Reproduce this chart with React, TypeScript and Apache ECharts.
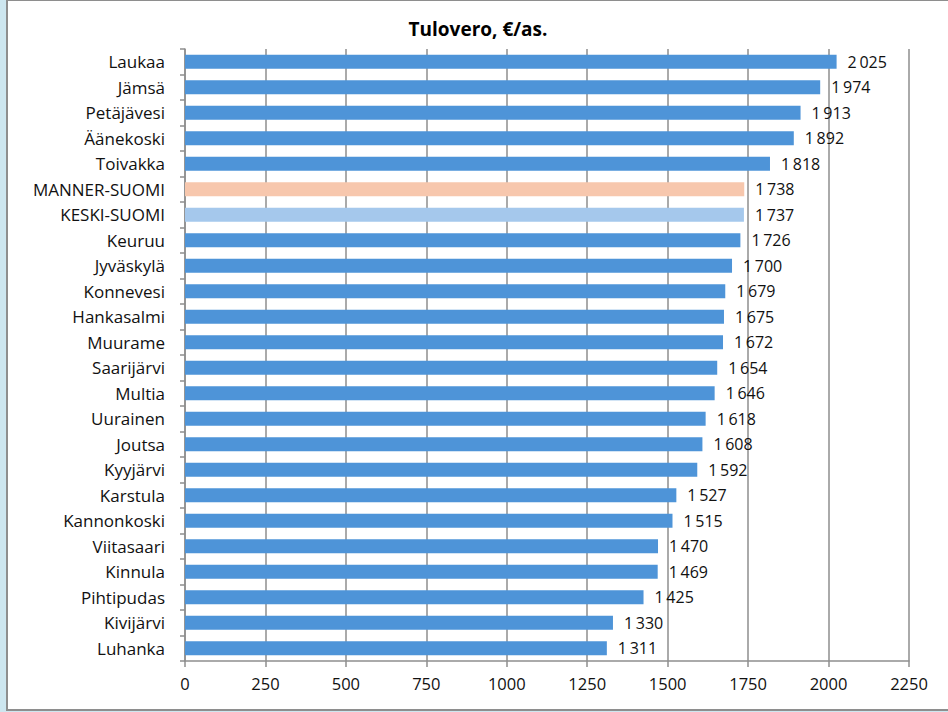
import React, { useEffect, useRef } from "react";
import * as echarts from "echarts";

const titleText = "Tulovero, €/as.";
const categories = [
  "Laukaa", "Jämsä", "Petäjävesi", "Äänekoski", "Toivakka", "MANNER-SUOMI", "KESKI-SUOMI",
  "Keuruu", "Jyväskylä", "Konnevesi", "Hankasalmi", "Muurame", "Saarijärvi", "Multia",
  "Uurainen", "Joutsa", "Kyyjärvi", "Karstula", "Kannonkoski", "Viitasaari", "Kinnula",
  "Pihtipudas", "Kivijärvi", "Luhanka",
];
const values = [
  2025, 1974, 1913, 1892, 1818, 1738, 1737, 1726, 1700, 1679, 1675, 1672, 1654, 1646,
  1618, 1608, 1592, 1527, 1515, 1470, 1469, 1425, 1330, 1311,
];
const highlightColors: Record<string, string> = {
  "MANNER-SUOMI": "#f7c7ad",
  "KESKI-SUOMI": "#a5c8ec",
};
const baseColor = "#4e94d8";
const xMin = 0;
const xMax = 2250;
const xInterval = 250;

const FONT = "'Open Sans', 'Noto Sans', sans-serif";
const GRAY = "#8e8e8e";

function fmt(v: number): string {
  const s = String(v);
  return s.length > 3 ? s.slice(0, s.length - 3) + "\u2009" + s.slice(s.length - 3) : s;
}

export default function App() {
  const ref = useRef<HTMLDivElement>(null);
  useEffect(() => {
    document.body.style.margin = "0";
    const chart = echarts.init(ref.current!, null, { renderer: "svg" });
    chart.setOption({
      animation: false,
      graphic: [
        {
          type: "text",
          x: 478,
          y: 29,
          style: {
            text: titleText,
            fontFamily: FONT,
            fontSize: 19,
            fontWeight: "bold",
            fill: "#000",
            textAlign: "center",
            textVerticalAlign: "middle",
          },
        },
      ],
      grid: { left: 185, right: 39, top: 49, bottom: 51, containLabel: false },
      xAxis: {
        type: "value",
        min: xMin,
        max: xMax,
        interval: xInterval,
        axisLine: { show: true, lineStyle: { color: GRAY, width: 1.5 } },
        axisTick: { show: true, length: 6, lineStyle: { color: GRAY, width: 1.5 } },
        axisLabel: {
          fontFamily: FONT,
          fontSize: 16.5,
          color: "#111",
          margin: 14,
          formatter: (v: number) => String(v),
        },
        splitLine: { show: true, lineStyle: { color: GRAY, width: 1.5 } },
      },
      yAxis: {
        type: "category",
        data: categories,
        inverse: true,
        axisLine: { show: true, lineStyle: { color: GRAY, width: 1.5 } },
        axisTick: { show: true, length: 5, inside: false, lineStyle: { color: GRAY, width: 1.5 } },
        axisLabel: { fontFamily: FONT, fontSize: 17, color: "#111", margin: 20 },
        splitLine: { show: false },
      },
      series: [
        {
          type: "bar",
          barWidth: 14,
          data: values.map((v, i) => ({
            value: v,
            itemStyle: { color: highlightColors[categories[i]] || baseColor },
          })),
          label: {
            show: true,
            position: "right",
            distance: 11,
            fontFamily: FONT,
            fontSize: 16,
            color: "#111",
            formatter: (p: any) => fmt(p.value),
          },
        },
      ],
    });
    return () => chart.dispose();
  }, []);
  return (
    <div style={{ position: "fixed", left: 0, top: 0, width: 948, height: 712, background: "#cde6ef", overflow: "hidden" }}>
      <div
        style={{
          position: "absolute",
          left: 6,
          top: -1,
          width: 960,
          height: 712,
          background: "#fff",
          border: "2px solid " + GRAY,
          boxSizing: "border-box",
        }}
      />
      <div ref={ref} style={{ position: "absolute", left: 0, top: 0, width: 948, height: 712 }} />
    </div>
  );
}
